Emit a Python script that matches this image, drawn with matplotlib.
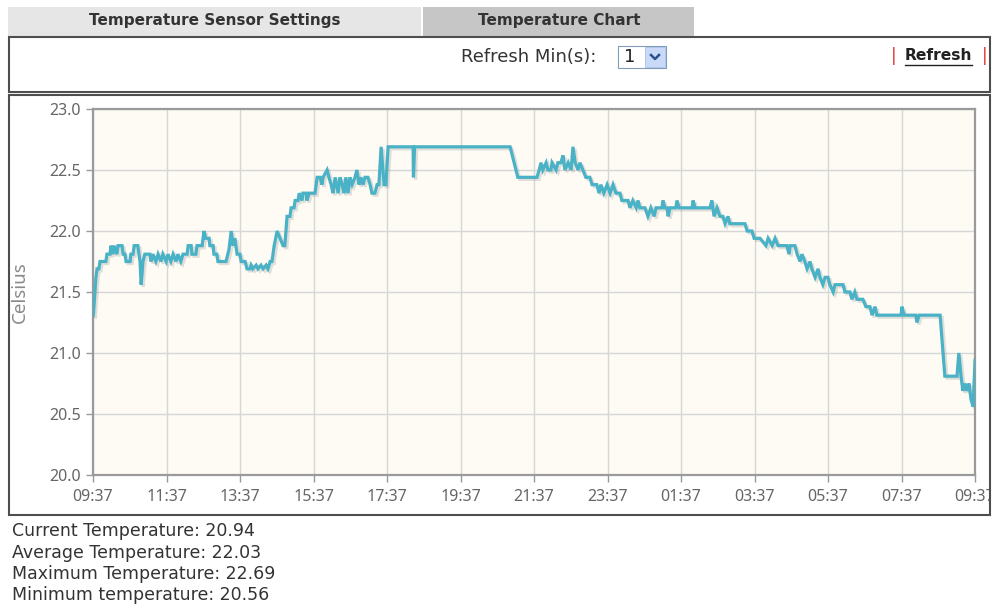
import matplotlib
matplotlib.use("Agg")
import matplotlib.pyplot as plt
import matplotlib.patheffects as pe
from matplotlib.patches import Rectangle
from matplotlib.lines import Line2D
from matplotlib.transforms import Bbox, TransformedBbox

W, H = 992, 610

# hours since 09:37 and sensor reading (Celsius)
HOURS = [
    0.01, 0.08, 0.11, 0.16, 0.19, 0.35, 0.38, 0.46, 0.49, 0.54, 0.57, 0.65, 0.68, 0.79,
    0.82, 0.87, 0.90, 1.01, 1.03, 1.09, 1.12, 1.22, 1.25, 1.28, 1.31, 1.36, 1.41, 1.55,
    1.58, 1.63, 1.71, 1.77, 1.85, 1.90, 1.99, 2.04, 2.12, 2.18, 2.26, 2.31, 2.39, 2.45,
    2.56, 2.59, 2.67, 2.69, 2.80, 2.83, 2.97, 3.02, 3.07, 3.16, 3.18, 3.27, 3.29, 3.37,
    3.40, 3.51, 3.62, 3.70, 3.76, 3.81, 3.86, 3.92, 4.00, 4.03, 4.14, 4.19, 4.27, 4.30,
    4.35, 4.44, 4.49, 4.57, 4.63, 4.71, 4.76, 4.82, 4.87, 4.93, 5.01, 5.09, 5.17, 5.22,
    5.28, 5.36, 5.39, 5.47, 5.50, 5.58, 5.61, 5.69, 5.71, 5.80, 5.82, 5.88, 5.96, 6.04,
    6.10, 6.18, 6.23, 6.26, 6.37, 6.42, 6.48, 6.53, 6.59, 6.67, 6.72, 6.78, 6.83, 6.88,
    6.94, 6.99, 7.05, 7.13, 7.18, 7.24, 7.29, 7.35, 7.40, 7.48, 7.54, 7.59, 7.67, 7.73,
    7.78, 7.84, 7.89, 7.92, 7.97, 8.03, 8.71, 8.72, 8.75, 11.35, 11.46, 11.56, 12.08,
    12.14, 12.19, 12.24, 12.33, 12.38, 12.46, 12.49, 12.60, 12.65, 12.73, 12.79, 12.84,
    12.93, 13.01, 13.06, 13.12, 13.20, 13.25, 13.33, 13.41, 13.52, 13.58, 13.71, 13.77,
    13.82, 13.90, 13.99, 14.07, 14.15, 14.23, 14.34, 14.39, 14.56, 14.61, 14.69, 14.78,
    14.83, 14.88, 15.02, 15.10, 15.18, 15.27, 15.32, 15.48, 15.51, 15.56, 15.62, 15.65,
    15.70, 15.86, 15.89, 15.95, 16.30, 16.33, 16.38, 16.79, 16.84, 16.90, 16.98, 17.06,
    17.14, 17.20, 17.28, 17.33, 17.74, 17.80, 17.93, 17.99, 18.15, 18.31, 18.37, 18.48,
    18.56, 18.64, 18.88, 18.94, 18.97, 19.10, 19.16, 19.24, 19.29, 19.37, 19.43, 19.51,
    19.56, 19.65, 19.73, 19.78, 19.86, 19.92, 20.00, 20.05, 20.14, 20.19, 20.41, 20.46,
    20.60, 20.65, 20.73, 20.79, 20.95, 21.03, 21.14, 21.20, 21.28, 21.33, 21.99, 22.01,
    22.07, 22.39, 22.42, 22.48, 23.05, 23.18, 23.51, 23.56, 23.62, 23.67, 23.73, 23.78,
    23.84, 23.89, 23.95, 24.00,
]
CELSIUS = [
    21.31, 21.62, 21.69, 21.69, 21.75, 21.75, 21.81, 21.81, 21.88, 21.81, 21.88, 21.81, 21.88, 21.88,
    21.81, 21.81, 21.75, 21.75, 21.81, 21.81, 21.88, 21.88, 21.81, 21.75, 21.56, 21.75, 21.81, 21.81,
    21.75, 21.81, 21.75, 21.81, 21.75, 21.81, 21.75, 21.81, 21.75, 21.81, 21.75, 21.81, 21.75, 21.81,
    21.81, 21.88, 21.88, 21.81, 21.81, 21.88, 21.88, 22.00, 21.94, 21.94, 21.88, 21.88, 21.81, 21.81,
    21.75, 21.75, 21.75, 21.85, 22.00, 21.88, 21.94, 21.81, 21.81, 21.75, 21.75, 21.69, 21.69, 21.72,
    21.69, 21.72, 21.69, 21.72, 21.69, 21.72, 21.69, 21.75, 21.75, 21.88, 22.00, 21.94, 21.88, 21.88,
    22.12, 22.12, 22.19, 22.19, 22.25, 22.25, 22.31, 22.25, 22.31, 22.31, 22.25, 22.31, 22.31, 22.31,
    22.44, 22.44, 22.38, 22.44, 22.50, 22.44, 22.38, 22.31, 22.44, 22.31, 22.44, 22.38, 22.31, 22.44,
    22.31, 22.44, 22.38, 22.44, 22.50, 22.38, 22.44, 22.38, 22.44, 22.44, 22.38, 22.31, 22.31, 22.38,
    22.38, 22.69, 22.50, 22.38, 22.38, 22.69, 22.69, 22.44, 22.69, 22.69, 22.56, 22.44, 22.44,
    22.50, 22.56, 22.50, 22.56, 22.50, 22.50, 22.56, 22.50, 22.56, 22.56, 22.62, 22.50,
    22.56, 22.50, 22.69, 22.56, 22.50, 22.56, 22.50, 22.44, 22.44, 22.38, 22.38, 22.31,
    22.38, 22.31, 22.38, 22.31, 22.38, 22.31, 22.31, 22.25, 22.25, 22.19, 22.25, 22.19,
    22.25, 22.19, 22.19, 22.12, 22.19, 22.12, 22.19, 22.19, 22.25, 22.19, 22.19, 22.12,
    22.19, 22.19, 22.25, 22.19, 22.19, 22.25, 22.19, 22.19, 22.25, 22.12, 22.19, 22.12,
    22.12, 22.06, 22.12, 22.06, 22.06, 22.00, 22.00, 21.94, 21.94, 21.88, 21.94, 21.88,
    21.94, 21.88, 21.88, 21.81, 21.88, 21.88, 21.81, 21.75, 21.81, 21.75, 21.69, 21.75,
    21.69, 21.62, 21.69, 21.62, 21.56, 21.62, 21.62, 21.56, 21.50, 21.56, 21.56, 21.50,
    21.50, 21.44, 21.50, 21.44, 21.44, 21.38, 21.38, 21.31, 21.38, 21.31, 21.31, 21.38,
    21.31, 21.31, 21.25, 21.31, 21.31, 20.81, 20.81, 21.00, 20.81, 20.69, 20.75, 20.69,
    20.75, 20.62, 20.56, 20.94,
]
TICK_HOURS = list(range(0, 25, 2))
TICK_LABELS = ["09:37", "11:37", "13:37", "15:37", "17:37", "19:37", "21:37",
               "23:37", "01:37", "03:37", "05:37", "07:37", "09:37"]
Y_TICKS = [20.0, 20.5, 21.0, 21.5, 22.0, 22.5, 23.0]
STATS = [("Current Temperature", 20.94), ("Average Temperature", 22.03),
         ("Maximum Temperature", 22.69), ("Minimum temperature", 20.56)]

LINE_COLOR = "#4ab2c6"
BORDER = "#4e4e4e"


def fx(x):
    return x / W


def fy(y):
    return 1 - y / H


def box(fig, x0, y0, x1, y1, face="white", edge=None, lw=0, z=0):
    r = Rectangle((fx(x0), fy(y1)), fx(x1) - fx(x0), fy(y0) - fy(y1),
                  transform=fig.transFigure, facecolor=face,
                  edgecolor=edge if edge else face, linewidth=lw, zorder=z)
    fig.add_artist(r)
    return r


fig = plt.figure(figsize=(W / 100, H / 100), dpi=100)
fig.patch.set_facecolor("white")

# tabs
box(fig, 8, 7, 421, 36, face="#e6e6e6")
box(fig, 423, 7, 694, 36, face="#c6c6c6")
fig.text(fx(215), fy(21), "Temperature Sensor Settings", ha="center", va="center",
         fontsize=11, fontweight="bold", color="#333333")
fig.text(fx(559), fy(21), "Temperature Chart", ha="center", va="center",
         fontsize=11, fontweight="bold", color="#333333")

# refresh panel
box(fig, 9, 37, 990, 92, face="white", edge=BORDER, lw=1.5)
fig.text(fx(461), fy(57), "Refresh Min(s):", ha="left", va="center",
         fontsize=13, color="#333333")
box(fig, 618, 46, 666, 68, face="white", edge="#7f9db9", lw=0.8, z=2)
box(fig, 645, 47, 665, 67, face="#c9daf8", edge="#a9c0e8", lw=0.6, z=3)
fig.text(fx(630), fy(57), "1", ha="center", va="center", fontsize=13, color="#222222")
fig.add_artist(Line2D([fx(651), fx(655), fx(659)], [fy(55), fy(59), fy(55)],
                      transform=fig.transFigure, color="#2d4f8a", lw=1.8, zorder=4))
fig.text(fx(894), fy(56), "|", ha="center", va="center", fontsize=12, color="#e03030")
fig.text(fx(985), fy(56), "|", ha="center", va="center", fontsize=12, color="#e03030")
fig.text(fx(938.5), fy(55.5), "Refresh", ha="center", va="center",
         fontsize=11.2, fontweight="bold", color="#222222")
fig.add_artist(Line2D([fx(905), fx(972)], [fy(65), fy(65)], transform=fig.transFigure,
                      color="#222222", lw=1.0))

# chart panel
box(fig, 9, 95, 990, 515, face="white", edge=BORDER, lw=1.5)
panel_clip = TransformedBbox(Bbox([[fx(10), fy(514)], [fx(989), fy(96)]]), fig.transFigure)

ax = fig.add_axes([fx(93), fy(475), fx(975) - fx(93), fy(109) - fy(475)])
ax.set_facecolor("#fdfbf3")
ax.plot(HOURS, CELSIUS, color=LINE_COLOR, lw=2.3, solid_joinstyle="miter",
        path_effects=[pe.SimpleLineShadow(offset=(1.5, -1.5), shadow_color="#888888", alpha=0.25),
                      pe.Normal()], zorder=3)
ax.set_xlim(0, 24)
ax.set_ylim(20, 23)
ax.set_xticks(TICK_HOURS)
ax.set_xticklabels(TICK_LABELS)
ax.set_yticks(Y_TICKS)
ax.set_yticklabels([f"{v:.1f}" for v in Y_TICKS])
ax.grid(True, color="#d6d6d6", lw=1.0, zorder=0)
ax.set_axisbelow(True)
for s in ax.spines.values():
    s.set_color("#9a9a9a")
    s.set_linewidth(1.6)
ax.tick_params(axis="both", colors="#999999", labelcolor="#666666", labelsize=11.5,
               length=5, width=1)
ax.tick_params(axis="x", pad=5)
for lab in ax.get_xticklabels() + ax.get_yticklabels():
    lab.set_family("Noto Sans")
    lab.set_clip_on(True)
    lab.set_clip_box(panel_clip)
ax.set_ylabel("Celsius", fontsize=13.5, color="#8a8a8a", family="Noto Sans")
ax.yaxis.set_label_coords(-(93 - 29) / (975 - 93), 0.5)

# readings below the chart
for i, (name, val) in enumerate(STATS):
    fig.text(fx(12), fy(531 + i * 21.5), f"{name}: {val:.2f}", ha="left", va="center",
             fontsize=12.5, color="#333333")

fig.savefig("out.png", dpi=100)
